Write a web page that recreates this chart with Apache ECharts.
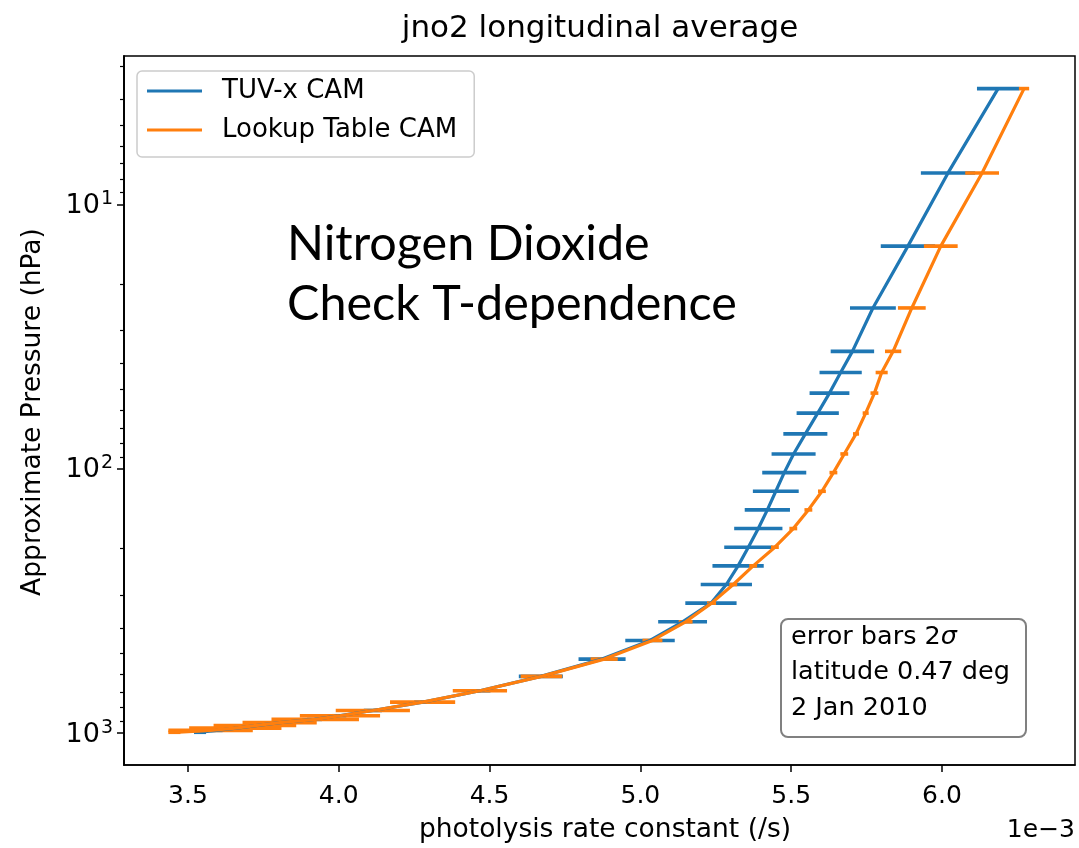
<!DOCTYPE html>
<html><head><meta charset="utf-8">
<script src="https://cdn.jsdelivr.net/npm/echarts@6/dist/echarts.min.js"></script>
<style>html,body{margin:0;padding:0;background:#fff}#c{width:1079px;height:848px}</style>
</head><body><div id="c"></div>
<script>
// Approximate pressure levels (hPa)
const pressure = [3.64, 7.59, 14.36, 24.61, 35.92, 43.19, 51.68, 61.52, 73.75, 87.82, 103.32, 121.55, 142.99, 168.23, 197.91, 232.83, 273.91, 322.24, 379.10, 445.99, 524.69, 609.78, 691.39, 763.40, 820.86, 859.53, 887.02, 912.64, 936.20, 957.49, 976.33, 992.56];
// TUV-x CAM photolysis rate (x 1e-3 /s) and 2-sigma half widths
const tuvx = [6.186, 6.020, 5.887, 5.771, 5.703, 5.664, 5.627, 5.588, 5.547, 5.508, 5.477, 5.449, 5.421, 5.391, 5.358, 5.324, 5.285, 5.234, 5.140, 5.032, 4.873, 4.670, 4.468, 4.280, 4.113, 4.000, 3.920, 3.805, 3.725, 3.662, 3.595, 3.540];
const tuvxErr = [0.070, 0.090, 0.090, 0.076, 0.072, 0.070, 0.066, 0.070, 0.073, 0.073, 0.073, 0.076, 0.075, 0.080, 0.080, 0.085, 0.085, 0.085, 0.081, 0.082, 0.078, 0.073, 0.035, 0.030, 0.030, 0.025, 0.025, 0.025, 0.020, 0.020, 0.020, 0.020];
// Lookup Table CAM photolysis rate (x 1e-3 /s) and 2-sigma half widths
const lut = [6.272, 6.133, 5.996, 5.900, 5.838, 5.800, 5.776, 5.747, 5.715, 5.676, 5.640, 5.602, 5.557, 5.507, 5.446, 5.374, 5.308, 5.236, 5.150, 5.040, 4.880, 4.672, 4.468, 4.278, 4.113, 4.004, 3.922, 3.804, 3.722, 3.657, 3.575, 3.455];
const lutErr = [0.017, 0.056, 0.056, 0.046, 0.027, 0.020, 0.013, 0.010, 0.010, 0.013, 0.013, 0.013, 0.013, 0.013, 0.013, 0.013, 0.013, 0.015, 0.023, 0.033, 0.045, 0.069, 0.090, 0.108, 0.123, 0.133, 0.145, 0.123, 0.137, 0.153, 0.140, 0.020];

const xTicks = [3.5, 4.0, 4.5, 5.0, 5.5, 6.0];
const yMajor = [10, 100, 1000];
const yMajorExp = ['1', '2', '3'];
const yMinor = [3, 4, 5, 6, 7, 8, 9, 20, 30, 40, 50, 60, 70, 80, 90, 200, 300, 400, 500, 600, 700, 800, 900];

const BLUE = '#1f77b4', ORANGE = '#ff7f0e';
const FONT = 'DejaVu Sans';

function lineSeries(name, xs, color) {
  return {
    type: 'line', name, color, data: pressure.map((p, i) => [xs[i], p]),
    showSymbol: false, symbol: 'none', smooth: false, clip: true,
    lineStyle: { color, width: 3.2 }, itemStyle: { color },
    xAxisIndex: 0, yAxisIndex: 0, silent: true
  };
}
function errSeries(name, xs, errs, color) {
  return {
    type: 'custom', name, coordinateSystem: 'cartesian2d', clip: true, silent: true,
    xAxisIndex: 0, yAxisIndex: 0,
    data: pressure.map((p, i) => [xs[i], p, errs[i]]),
    encode: { x: 0, y: 1 },
    renderItem: function (params, api) {
      const x = api.value(0), p = api.value(1), e = api.value(2);
      const a = api.coord([x - e, p]), b = api.coord([x + e, p]);
      return { type: 'line', shape: { x1: a[0], y1: a[1], x2: b[0], y2: b[1] },
        style: { stroke: color, lineWidth: 3.6 } };
    }
  };
}

const chart = echarts.init(document.getElementById('c'), null, { renderer: 'canvas' });
const yBase = { type: 'log', logBase: 10, min: 2.74, max: 1320, inverse: true, position: 'left',
  splitLine: { show: false }, axisLine: { show: true, lineStyle: { color: '#000', width: 1.5 } } };

chart.setOption({
  animation: false,
  backgroundColor: '#fff',
  grid: { left: 124, top: 56, width: 951, height: 709, show: true, borderColor: '#000', borderWidth: 1.5, backgroundColor: 'transparent' },
  xAxis: {
    type: 'value', min: 3.288, max: 6.441, position: 'bottom',
    splitLine: { show: false },
    axisLine: { show: true, lineStyle: { color: '#000', width: 1.5 } },
    axisTick: { show: true, length: 7, customValues: xTicks, lineStyle: { color: '#000', width: 1.5 } },
    axisLabel: { customValues: xTicks, formatter: v => Number(v).toFixed(1), fontSize: 25, color: '#000', fontFamily: FONT, margin: 19 }
  },
  yAxis: [
    Object.assign({}, yBase, {
      axisTick: { show: true, length: 7, customValues: yMajor, lineStyle: { color: '#000', width: 1.5 } },
      axisLabel: {
        customValues: yMajor,
        formatter: v => '{b|10}{s|' + yMajorExp[Math.round(Math.log10(v)) - 1] + '}',
        rich: {
          b: { fontSize: 27, fontFamily: FONT, color: '#000', lineHeight: 30, verticalAlign: 'bottom' },
          s: { fontSize: 19, fontFamily: FONT, color: '#000', lineHeight: 30, verticalAlign: 'top', padding: [0, 0, 12, 1] }
        },
        margin: 11
      }
    }),
    Object.assign({}, yBase, {
      axisTick: { show: true, length: 4, customValues: yMinor, lineStyle: { color: '#000', width: 1.2 } },
      axisLabel: { show: false }
    })
  ],
  legend: {
    show: true, orient: 'vertical', left: 137, top: 71,
    data: ['TUV-x CAM', 'Lookup Table CAM'],
    icon: 'rect', itemWidth: 55, itemHeight: 3.2, itemGap: 9,
    backgroundColor: '#fff', borderColor: '#cccccc', borderWidth: 1.5, borderRadius: 5,
    padding: [5, 17, 12, 10],
    textStyle: { fontFamily: FONT, fontSize: 26, color: '#000', lineHeight: 30, padding: [0, 0, 0, 15] },
    selectedMode: false
  },
  series: [
    lineSeries('TUV-x CAM', tuvx, BLUE),
    errSeries('TUV-x CAM error', tuvx, tuvxErr, BLUE),
    lineSeries('Lookup Table CAM', lut, ORANGE),
    errSeries('Lookup Table CAM error', lut, lutErr, ORANGE)
  ],
  graphic: [
    { type: 'text', x: 600, y: 29, style: { text: 'jno2 longitudinal average', fontFamily: FONT, fontSize: 31, fill: '#000', align: 'center', verticalAlign: 'middle' } },
    { type: 'text', x: 605, y: 830, style: { text: 'photolysis rate constant (/s)', fontFamily: FONT, fontSize: 26.5, fill: '#000', align: 'center', verticalAlign: 'middle' } },
    { type: 'text', x: 1075, y: 830, style: { text: '1e−3', fontFamily: FONT, fontSize: 25, fill: '#000', align: 'right', verticalAlign: 'middle' } },
    { type: 'text', x: 33, y: 412, rotation: Math.PI / 2, style: { text: 'Approximate Pressure (hPa)', fontFamily: FONT, fontSize: 26.5, fill: '#000', align: 'center', verticalAlign: 'middle' } },
    { type: 'text', x: 287, y: 244, style: { text: 'Nitrogen Dioxide', fontFamily: 'Lato', fontSize: 48.5, fill: '#000', align: 'left', verticalAlign: 'middle' } },
    { type: 'text', x: 287, y: 304, style: { text: 'Check T-dependence', fontFamily: 'Lato', fontSize: 48.5, fill: '#000', align: 'left', verticalAlign: 'middle' } },
    { type: 'rect', shape: { x: 781, y: 619, width: 245, height: 118, r: 7 }, style: { fill: '#fff', stroke: '#808080', lineWidth: 2 }, z: 100 },
    { type: 'text', x: 791, y: 637, z: 101, style: { text: '{n|error bars 2}{s|σ}', rich: { n: { fontFamily: FONT, fontSize: 25.5, fill: '#000' }, s: { fontFamily: FONT, fontSize: 25.5, fontStyle: 'italic', fill: '#000' } }, verticalAlign: 'middle', align: 'left' } },
    { type: 'text', x: 791, y: 672, z: 101, style: { text: 'latitude 0.47 deg', fontFamily: FONT, fontSize: 25.5, fill: '#000', verticalAlign: 'middle', align: 'left' } },
    { type: 'text', x: 791, y: 708, z: 101, style: { text: '2 Jan 2010', fontFamily: FONT, fontSize: 25.5, fill: '#000', verticalAlign: 'middle', align: 'left' } }
  ]
});
</script></body></html>
